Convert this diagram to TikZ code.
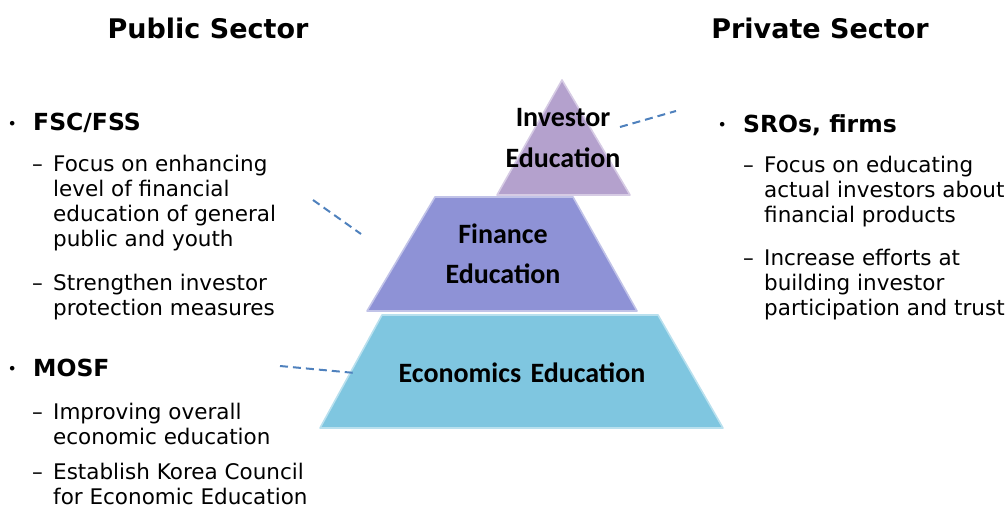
\documentclass[tikz,border=0pt]{standalone}
\usepackage{fontspec}
\setmainfont{DejaVu Sans}
\newfontfamily\pyrfont{Carlito}
\definecolor{pyrtop}{RGB}{180,161,205}
\definecolor{pyrmid}{RGB}{142,146,214}
\definecolor{pyrbot}{RGB}{127,198,224}
\definecolor{linkblue}{RGB}{79,129,189}
\newcommand\bulmark{\makebox[25pt][l]{\fontsize{13}{13}\selectfont\raisebox{2.5pt}{•}}}
\newcommand\dashitem[1]{\makebox[21pt][l]{–}\begin{tabular}[t]{@{}l@{}}#1\end{tabular}}
\begin{document}
\begin{tikzpicture}[x=1pt,y=-1pt,
  sectorhead/.style={font=\bfseries\fontsize{27}{31}\selectfont, anchor=base, inner sep=0},
  grouphead/.style={font=\bfseries\fontsize{23.5}{28}\selectfont, anchor=base west, inner sep=0},
  itemtext/.style={font=\fontsize{21.5}{25}\selectfont, anchor=base west, inner sep=0},
  lvltext/.style={font=\pyrfont\bfseries\fontsize{28}{40}\selectfont, text width=260pt, align=center, inner sep=0, anchor=base},
  lvlshape/.style={line width=1.6pt, line join=round},
  link/.style={draw=linkblue, line width=2pt, dash pattern=on 8pt off 5pt}]
\useasboundingbox (0,0) rectangle (1006,508);

% headings
\node[sectorhead] (pub) at (208,39) {Public Sector};
\node[sectorhead] (priv) at (820,39) {Private Sector};

% pyramid
\path[lvlshape, fill=pyrbot, draw=pyrbot!55!white] (382,315) -- (658,315) -- (723,428) -- (320,428) -- cycle;
\path[lvlshape, fill=pyrmid, draw=pyrmid!55!white] (435,197) -- (573,197) -- (637,311) -- (367,311) -- cycle;
\path[lvlshape, fill=pyrtop, draw=pyrtop!55!white] (562,80) -- (630,195) -- (497,195) -- cycle;

\node[lvltext] (inv) at (563,127) {Investor\\Education};
\node[lvltext] (fin) at (503,243) {Finance\\Education};
\node[lvltext] (eco) at (522,382) {Economics Education};

% left column
\node[grouphead] (fsc) at (8,131) {\bulmark FSC/FSS};
\node[itemtext] (fsc1) at (32,171) {\dashitem{Focus on enhancing\\level of financial\\education of general\\public and youth}};
\node[itemtext] (fsc2) at (32,290) {\dashitem{Strengthen investor\\protection measures}};
\node[grouphead] (mosf) at (8,376) {\bulmark MOSF};
\node[itemtext] (mosf1) at (32,419) {\dashitem{Improving overall\\economic education}};
\node[itemtext] (mosf2) at (32,479) {\dashitem{Establish Korea Council\\for Economic Education}};

% right column
\node[grouphead] (sro) at (718,132) {\bulmark SROs, firms};
\node[itemtext] (sro1) at (743,172) {\dashitem{Focus on educating\\actual investors about\\financial products}};
\node[itemtext] (sro2) at (743,265) {\dashitem{Increase efforts at\\building investor\\participation and trust}};

% connectors
\coordinate (invE) at (620,127);
\coordinate (sroW) at (676,111);
\coordinate (fscE) at (313,200);
\coordinate (finW) at (361,234);
\coordinate (mosfE) at (280,366);
\coordinate (ecoW) at (355,373);
\draw[link] (invE) -- (sroW);
\draw[link] (fscE) -- (finW);
\draw[link] (mosfE) -- (ecoW);
\end{tikzpicture}
\end{document}
